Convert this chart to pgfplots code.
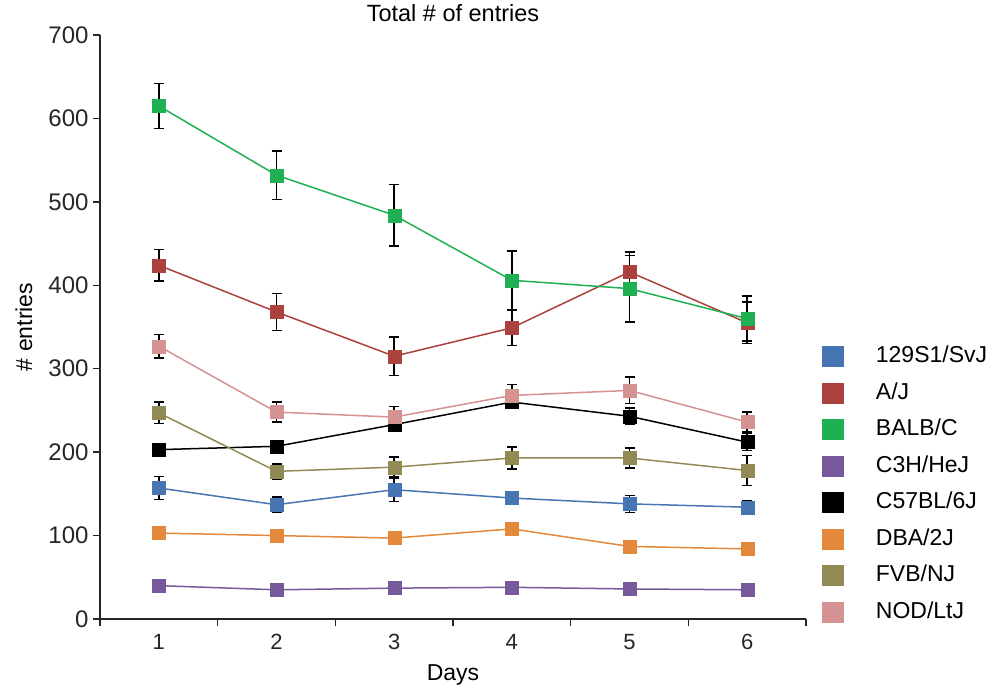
\documentclass[border=0pt]{standalone}
\usepackage{pgfplots}
\pgfplotsset{compat=1.18}
\usepackage{fontspec}
\setmainfont{Liberation Sans}
\definecolor{cBlue}{RGB}{70,117,178}
\definecolor{cRed}{RGB}{172,66,62}
\definecolor{cGreen}{RGB}{30,176,82}
\definecolor{cPurple}{RGB}{118,88,155}
\definecolor{cOrange}{RGB}{228,136,60}
\definecolor{cOlive}{RGB}{146,138,84}
\definecolor{cPink}{RGB}{212,146,146}
\pgfplotsset{
  ser/.style={color=#1, solid, line width=1.5pt, mark=square*, mark size=6.5pt,
     mark options={solid, fill=#1, draw=#1, line width=0.3pt},
     error bars/.cd, y dir=both, y explicit,
     error bar style={black, line width=1.4pt, solid},
     error mark options={black, line width=1.4pt, mark size=5pt, rotate=90, solid}},
}
\begin{document}
\begin{tikzpicture}
\useasboundingbox (-100pt,-70pt) rectangle (896pt,619pt);
\begin{axis}[
  at={(0pt,0pt)}, anchor=south west,
  scale only axis, width=706pt, height=584pt,
  xmin=0.5, xmax=6.5, ymin=0, ymax=700,
  axis lines*=left, axis line style={line width=1.3pt, black!85},
  xtick={0.5,1.5,...,6.5}, xticklabels={1,2,3,4,5,6},
  x tick label as interval,
  ytick={0,100,...,700},
  tick align=outside, major tick length=7pt,
  tick style={line width=1.3pt, black!85},
  /pgf/number format/assume math mode=true,
  yticklabel style={font=\fontsize{24}{28}\selectfont, text=black!85, xshift=-1pt},
  xticklabel style={font=\fontsize{22}{26}\selectfont, text=black!85, yshift=-5pt},
  title={Total \# of entries},
  title style={at={(0.5,1.0274)}, anchor=center, font=\fontsize{23.5}{27}\selectfont},
  xlabel={Days},
  xlabel style={at={(0.5,-0.096)}, anchor=center, font=\fontsize{23}{27}\selectfont},
  ylabel={\# entries},
  ylabel style={at={(-0.1076,0.5)}, anchor=center, font=\fontsize{23}{27}\selectfont},
  legend image code/.code={\fill[#1, draw=none] (0pt,-10.5pt) rectangle (22pt,10.5pt);},
  legend cell align=left,
  legend style={at={(1.018,0.472)}, anchor=north west, draw=none, fill=none,
     font=\fontsize{23}{27}\selectfont, row sep=14.5pt, column sep=0pt,
     nodes={inner sep=0pt, text height=17pt, text depth=5pt},
     /tikz/every odd column/.style={column sep=32pt}},
]
\addplot[ser=cBlue] coordinates {
  (1,157) +- (0,14) (2,137) +- (0,9) (3,155) +- (0,14)
  (4,145) +- (0,8) (5,138) +- (0,10) (6,134) +- (0,8)};
\addlegendentry{129S1/SvJ}
\addplot[ser=cRed] coordinates {
  (1,424) +- (0,19) (2,368) +- (0,22) (3,315) +- (0,23)
  (4,349) +- (0,21) (5,416) +- (0,24) (6,355) +- (0,25)};
\addlegendentry{A/J}
\addplot[ser=cGreen] coordinates {
  (1,615) +- (0,27) (2,532) +- (0,29) (3,484) +- (0,37)
  (4,406) +- (0,35) (5,396) +- (0,40) (6,360) +- (0,27)};
\addlegendentry{BALB/C}
\addplot[ser=cPurple] coordinates {
  (1,40) +- (0,3) (2,35) +- (0,3) (3,37) +- (0,3)
  (4,38) +- (0,3) (5,36) +- (0,3) (6,35) +- (0,3)};
\addlegendentry{C3H/HeJ}
\addplot[ser=black] coordinates {
  (1,203) +- (0,6) (2,207) +- (0,6) (3,233) +- (0,8)
  (4,260) +- (0,8) (5,243) +- (0,10) (6,212) +- (0,10)};
\addlegendentry{C57BL/6J}
\addplot[ser=cOrange] coordinates {
  (1,103) +- (0,3) (2,100) +- (0,6) (3,97) +- (0,3)
  (4,108) +- (0,3) (5,87) +- (0,6) (6,84) +- (0,3)};
\addlegendentry{DBA/2J}
\addplot[ser=cOlive] coordinates {
  (1,247) +- (0,13) (2,177) +- (0,9) (3,182) +- (0,12)
  (4,193) +- (0,13) (5,193) +- (0,12) (6,178) +- (0,18)};
\addlegendentry{FVB/NJ}
\addplot[ser=cPink] coordinates {
  (1,327) +- (0,14) (2,248) +- (0,12) (3,242) +- (0,13)
  (4,268) +- (0,13) (5,274) +- (0,16) (6,236) +- (0,12)};
\addlegendentry{NOD/LtJ}
\end{axis}
\end{tikzpicture}
\end{document}
